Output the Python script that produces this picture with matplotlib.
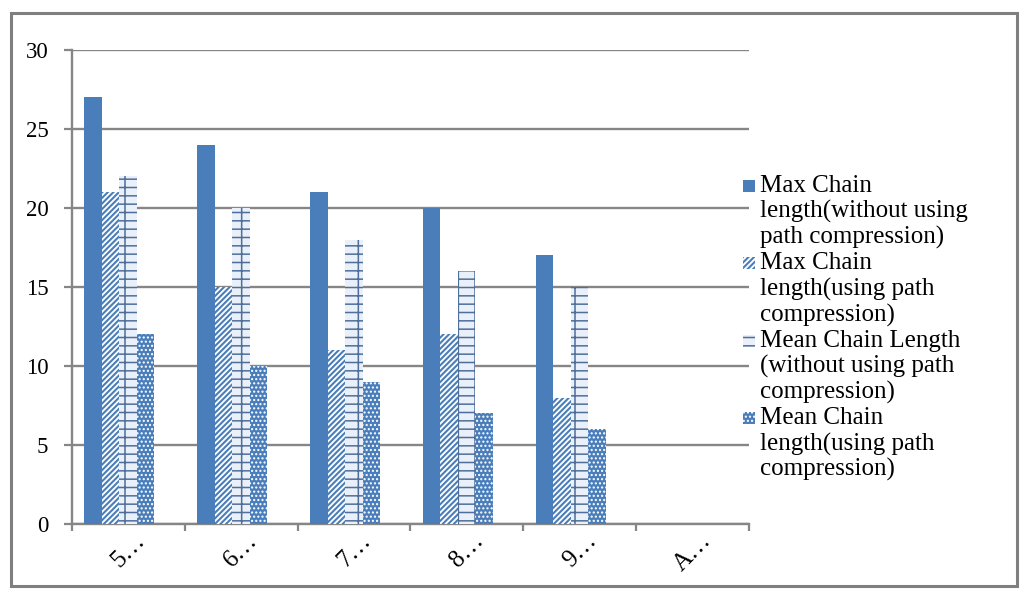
import matplotlib
matplotlib.use("Agg")
import matplotlib.pyplot as plt
import matplotlib.patches as mpatches
import numpy as np

plt.rcParams['font.family'] = ['Liberation Serif', 'DejaVu Serif']

# categories (the original labels are cut off)
categories = ["5\u2026", "6\u2026", "7\u2026", "8\u2026", "9\u2026", "A\u2026"]

series_names = [
    "Max Chain\nlength(without using\npath compression)",
    "Max Chain\nlength(using path\ncompression)",
    "Mean Chain Length\n(without using path\ncompression)",
    "Mean Chain\nlength(using path\ncompression)",
]

max_no_compression = [27, 24, 21, 20, 17, 0]
max_compression = [21, 15, 11, 12, 8, 0]
mean_no_compression = [22, 20, 18, 16, 15, 0]
mean_compression = [12, 10, 9, 7, 6, 0]

values = [max_no_compression, max_compression, mean_no_compression, mean_compression]

BLUE = '#4A7EBB'
GRAY = '#868686'
# (facecolor, hatch colour, hatch, hatch linewidth)
styles = [
    (BLUE, BLUE, None, 1.0),
    ('white', BLUE, '//////', 1.5),
    ('#e9f0f9', '#4f6f9a', '--|', 1.1),
    (BLUE, 'white', '....', 1.0),
]

W, H = 1031, 599
fig = plt.figure(figsize=(W / 100, H / 100), dpi=100)

# outer chart border
fig.patches.append(mpatches.Rectangle((11 / W, 1 - 586 / H), (1017 - 11) / W, (586 - 13) / H,
                                      transform=fig.transFigure, fill=False,
                                      edgecolor='#7f7f7f', linewidth=2.2))

ax = fig.add_axes([72 / W, 1 - 524 / H, (749 - 72) / W, (524 - 50) / H])

x = np.arange(len(categories))
bw = 0.155
offset = -0.08
for i, vals in enumerate(values):
    fc, hc, hatch, hlw = styles[i]
    with plt.rc_context({'hatch.linewidth': hlw}):
        ax.bar(x + offset + (i - 1.5) * bw, vals, bw, facecolor=fc, edgecolor=hc,
               hatch=hatch, linewidth=0, zorder=3)

ax.set_xlim(-0.5, len(categories) - 0.5)
ax.set_ylim(0, 30)
ax.set_yticks(np.arange(0, 31, 5))
ax.yaxis.grid(True, color=GRAY, linewidth=1.7, zorder=0)
ax.set_axisbelow(True)

ax.set_xticks(x)
ax.set_xticklabels(categories, rotation=45, ha='center', fontsize=18)
ax.set_xticks(np.arange(-0.5, len(categories)), minor=True)
ax.tick_params(axis='x', which='major', length=0, pad=4)
ax.tick_params(axis='x', which='minor', length=5, width=1.6, color=GRAY)
ax.tick_params(axis='y', length=6, width=1.6, color=GRAY, pad=11, labelsize=16.5)

for s in ['top', 'right']:
    ax.spines[s].set_visible(False)
for s in ['left', 'bottom']:
    ax.spines[s].set_color(GRAY)
    ax.spines[s].set_linewidth(1.7)

# legend drawn by hand so the marker sits on the first line of each entry
line_h = 25.8
y0 = 186
k = 0
for i, name in enumerate(series_names):
    fc, hc, hatch, hlw = styles[i]
    yc = y0 + k * line_h
    with plt.rc_context({'hatch.linewidth': hlw}):
        fig.patches.append(mpatches.Rectangle((743 / W, 1 - (yc + 6) / H), 12 / W, 12 / H,
                                              transform=fig.transFigure, facecolor=fc,
                                              edgecolor=hc, hatch=hatch, linewidth=0))
    for line in name.split("\n"):
        fig.text(760 / W, 1 - (y0 + k * line_h) / H, line, fontsize=18,
                 ha='left', va='center')
        k += 1

fig.savefig("out.png", dpi=100, facecolor='white')
